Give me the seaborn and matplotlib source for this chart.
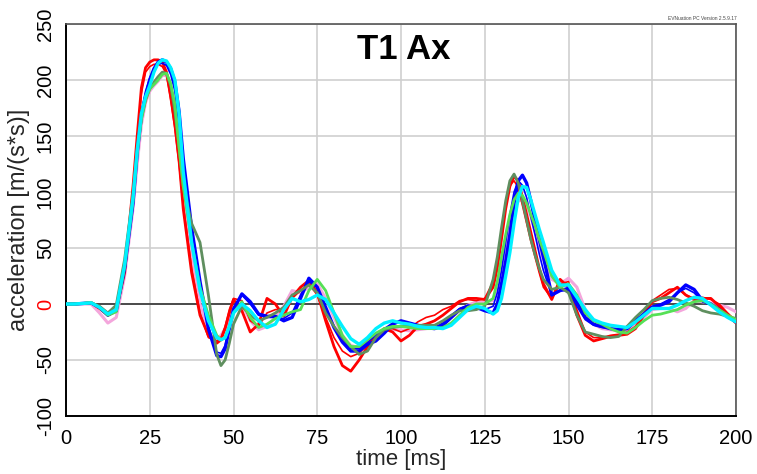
import numpy as np
import pandas as pd
import matplotlib
matplotlib.use("Agg")
import matplotlib.pyplot as plt
import seaborn as sns

# time axis [ms] (denser sampling around the sharp peaks)
time_ms = [0, 2.5, 5, 7.5, 10, 12.5, 15, 17.5, 20,
           21.25, 22.5, 23.75, 25, 26.25, 27.5, 28.75, 30, 31.25, 32.5, 33.75, 35,
           37.5, 40, 42.5, 45,
           46.25, 47.5, 48.75, 50,
           52.5, 55, 57.5, 60, 62.5, 65, 67.5, 70, 72.5, 75,
           77.5, 80, 82.5, 85, 87.5, 90, 92.5, 95, 97.5, 100,
           102.5, 105, 107.5, 110, 112.5, 115, 117.5, 120, 122.5, 125,
           127.5,
           128.75, 130, 131.25, 132.5, 133.75, 135, 136.25, 137.5, 138.75, 140, 141.25, 142.5,
           145, 147.5, 150, 152.5, 155, 157.5, 160, 162.5, 165, 167.5, 170, 172.5,
           175, 177.5, 180, 182.5, 185, 187.5, 190, 192.5, 195, 197.5, 200]

red_thick = [0, 0, 0.5, 1, -4, -10, -5, 28, 105,
             150, 193, 211, 216, 218, 218, 216, 207, 185, 160, 128, 85,
             28, -10, -28, -35,
             -32, -22, -8, 4,
             -6, -25, -18, 5, 0, -11, 6, 15, 21, 10,
             -15, -38, -55, -60, -50, -38, -28, -22, -25, -33,
             -28, -20, -18, -15, -10, -4, 2, 5, 5, 4,
             15,
             32, 58, 85, 105, 114, 110, 95, 80, 64, 48, 32, 18,
             4, 22, 15, -10, -28, -33, -31, -29, -28, -27, -22, -10,
             2, 5, 10, 15, 8, 4, 5, 5, -2, -10, -17]
red_thin = [0, 0, 0.5, 1, -4, -9, -4, 30, 100,
            145, 188, 207, 212, 214, 214, 212, 205, 183, 157, 125, 88,
            32, -8, -30, -33,
            -30, -20, -5, 5,
            3, -15, -20, -8, -5, -5, 5, 12, 18, 8,
            -12, -30, -42, -47, -44, -36, -28, -22, -22, -25,
            -22, -16, -12, -10, -5, -2, 3, 4, 3, 5,
            20,
            40, 65, 90, 106, 110, 104, 88, 72, 56, 42, 28, 15,
            5, 18, 20, -5, -25, -30, -30, -28, -27, -25, -20, -8,
            3, 8, 13, 14, 8, 5, 6, 4, 0, -8, -15]
blue_thick = [0, 0, 0.5, 1, -3, -10, -6, 32, 90,
              135, 168, 185, 200, 210, 216, 218, 216, 210, 198, 172, 130,
              68, 20, -22, -46,
              -47, -40, -22, -5,
              9, 2, -9, -11, -11, -15, -12, 5, 23, 15,
              -3, -21, -34, -42, -42, -36, -33, -26, -18, -15,
              -17, -19, -21, -22, -19, -12, -5, -2, -3, -6,
              -8,
              0, 18, 38, 62, 90, 110, 115, 108, 92, 75, 58, 42,
              8, 12, 14, 2, -12, -18, -20, -22, -23, -22, -15, -10,
              -3, -1, 2, 10, 17, 13, 3, 0, -5, -11, -16]
blue_thin = [0, 0, 0.5, 1, -3, -9, -5, 33, 92,
             138, 172, 190, 202, 210, 214, 215, 213, 205, 190, 160, 125,
             62, 16, -20, -43,
             -44, -37, -20, -3,
             8, 0, -10, -12, -12, -13, -8, 8, 20, 15,
             -5, -20, -32, -40, -40, -34, -28, -22, -17, -16,
             -18, -20, -22, -21, -17, -10, -4, -1, -2, -5,
             -2,
             10, 30, 55, 80, 100, 110, 106, 95, 78, 62, 45, 30,
             8, 12, 12, -2, -14, -19, -21, -22, -22, -20, -14, -8,
             -2, 0, 4, 10, 14, 10, 2, -1, -5, -10, -15]
dark_green = [0, 0, 0.5, 1, -2, -8, -1, 40, 98,
              138, 165, 182, 192, 198, 203, 207, 206, 195, 172, 140, 105,
              72, 55, 8, -45,
              -55, -50, -35, -18,
              -2, -10, -15, -12, -8, -3, 8, 12, 17, 10,
              -8, -20, -30, -38, -45, -42, -30, -23, -21, -20,
              -20, -19, -19, -19, -15, -10, -6, -6, -5, -2,
              22,
              42, 68, 92, 110, 116, 108, 92, 75, 58, 44, 32, 22,
              13, 15, 10, -10, -25, -27, -29, -30, -29, -20, -12, -5,
              3, 5, 6, 4, 1, -2, -6, -8, -9, -11, -13]
light_green = [0, 0, 0.5, 1.5, -3, -10, -7, 33, 92,
               135, 165, 183, 192, 196, 200, 205, 206, 197, 178, 140, 105,
               55, 15, -10, -28,
               -32, -30, -20, -8,
               2, -12, -21, -18, -13, -10, -7, -5, 12, 22,
               12, -8, -28, -38, -38, -32, -26, -22, -20, -20,
               -21, -22, -22, -22, -21, -17, -10, -3, 0, 0,
               5,
               20, 42, 62, 80, 93, 99, 97, 90, 80, 70, 58, 48,
               25, 15, 18, 8, -8, -15, -18, -22, -25, -26, -21, -15,
               -10, -9, -7, -5, -1, 2, 3, 0, -5, -10, -14]
cyan = [0, 0, 0.5, 1, -3, -9, -5, 35, 95,
        137, 170, 185, 195, 207, 215, 218, 217, 211, 200, 170, 118,
        55, 12, -15, -30,
        -32, -30, -20, -8,
        0, -6, -15, -21, -18, -5, 5, 2, 4, 8,
        4, -8, -20, -31, -36, -30, -22, -17, -15, -17,
        -18, -20, -21, -21, -22, -19, -12, -5, -2, -4,
        -9,
        -6, 5, 25, 46, 72, 95, 105, 104, 93, 80, 67, 55,
        30, 17, 17, 6, -5, -14, -17, -19, -20, -21, -16, -10,
        -4, -4, -4, -1, 3, 6, 5, -1, -7, -12, -16]
pink = [0, 0, 0, 0, -8, -17, -12, 25, 85,
        125, 160, 180, 190, 195, 199, 204, 204, 192, 170, 135, 100,
        45, 0, -28, -31,
        -28, -22, -12, -4,
        0, -15, -23, -20, -12, -2, 12, 10, 15, 18,
        5, -12, -28, -37, -39, -33, -27, -24, -23, -23,
        -24, -23, -22, -21, -17, -12, -6, -1, 2, 2,
        3,
        15, 32, 52, 70, 84, 92, 93, 88, 78, 65, 52, 40,
        22, 18, 23, 15, -5, -18, -22, -23, -24, -23, -18, -12,
        -5, -4, -4, -7, -4, 3, 2, 1, -1, -3, -7]

x_ticks = [0, 25, 50, 75, 100, 125, 150, 175, 200]
y_ticks = [-100, -50, 0, 50, 100, 150, 200, 250]

series = [
    ("pink", pink, "#f4a6dc", 2.2),
    ("red thin", red_thin, "#ff0000", 1.2),
    ("red", red_thick, "#ff0000", 2.0),
    ("blue thin", blue_thin, "#0000ff", 1.2),
    ("blue", blue_thick, "#0000ff", 2.4),
    ("dark green", dark_green, "#5f8f5f", 2.0),
    ("light green", light_green, "#55e055", 2.0),
    ("cyan", cyan, "#00f0ff", 2.4),
]

sns.set_style("white")
plt.rcParams["font.family"] = ["Liberation Sans", "DejaVu Sans"]

fig = plt.figure(figsize=(7.57, 4.74), dpi=100)
ax = fig.add_axes([66 / 757, 1 - 416 / 474, 670 / 757, 392 / 474])

for name, vals, col, lw in series:
    df = pd.DataFrame({"time": time_ms, "acc": vals})
    sns.lineplot(data=df, x="time", y="acc", color=col, lw=lw, ax=ax, zorder=3)

ax.axhline(0, color="#404040", lw=1.3, zorder=2)
ax.set_xlim(0, 200)
ax.set_ylim(-100, 250)
ax.set_xticks(x_ticks)
ax.set_yticks(y_ticks)
ax.set_xticklabels([str(v) for v in x_ticks])
ax.set_yticklabels([str(v) for v in y_ticks])
ax.grid(True, color="#cfcfcf", lw=1.2, zorder=0)
ax.set_axisbelow(True)

for s in ["left", "bottom"]:
    ax.spines[s].set_color("black")
    ax.spines[s].set_linewidth(1.4)
for s in ["top", "right"]:
    ax.spines[s].set_color("#555555")
    ax.spines[s].set_linewidth(1.2)

ax.tick_params(axis="x", direction="in", length=6, width=1, pad=9, labelsize=14.5, colors="black")
ax.tick_params(axis="y", direction="out", length=4, width=1, pad=4, labelsize=14.5, colors="black")
for lab in ax.get_yticklabels():
    lab.set_rotation(90)
    lab.set_va("center")
    lab.set_ha("right")
    if lab.get_text() == "0":
        lab.set_color("red")

ax.set_xlabel("time [ms]", fontsize=16, labelpad=1)
ax.set_ylabel("acceleration [m/(s*s)]", fontsize=17, labelpad=4)

ax.text(0.504, 0.934, "T1 Ax", transform=ax.transAxes, ha="center", va="center",
        fontsize=25, fontweight="bold", color="black")
fig.text(737 / 757, 1 - 18 / 474, "EVNuation PC Version 2.5.9.17", ha="right", va="center",
         fontsize=3.5, color="#444444")

fig.savefig("out.png", dpi=100)
